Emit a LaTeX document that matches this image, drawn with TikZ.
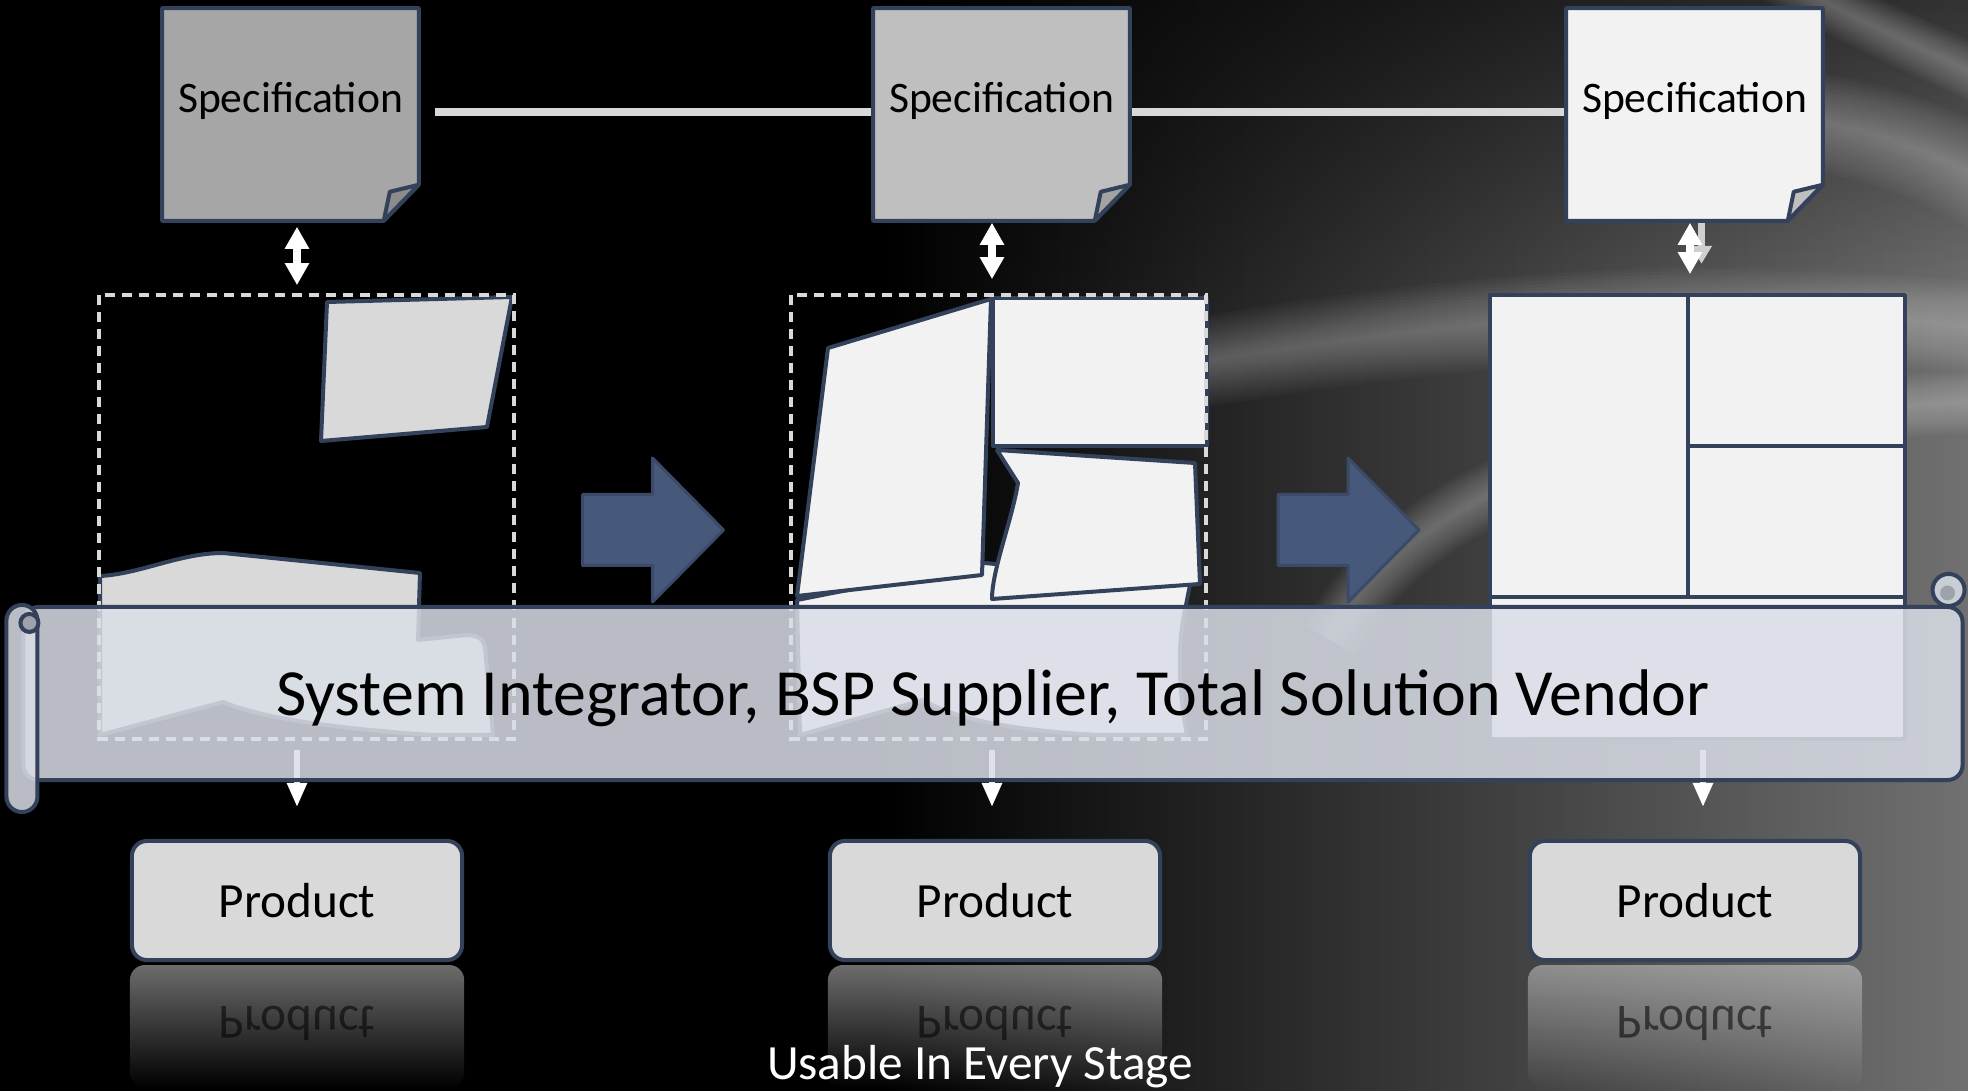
\documentclass[tikz,border=0pt]{standalone}
\usepackage{fontspec}
\setmainfont{Carlito}
\usetikzlibrary{calc,positioning,fadings,arrows.meta}

\definecolor{edgeblue}{HTML}{34415A}
\definecolor{flowblue}{HTML}{47597A}
\definecolor{flowedge}{HTML}{3A4A68}
\definecolor{piecegray}{HTML}{D9D9D9}
\definecolor{piecewhite}{HTML}{F2F2F2}
\definecolor{scrollfill}{RGB}{218,222,231}
\definecolor{curlgray}{HTML}{9EA2AA}
\definecolor{linkgray}{HTML}{D9D9D9}
\definecolor{ghostgray}{HTML}{CFCFCF}

\begin{document}
\begin{tikzpicture}[x=0.01cm, y=-0.01cm,
  specbox/.style={minimum width=2.55cm, minimum height=2.11cm, inner sep=0pt},
  sheet/.style={draw=edgeblue, line width=0.04cm, line join=round},
  spectext/.style={font=\fontsize{12.4}{14}\selectfont, inner sep=0pt},
  stagebox/.style={minimum width=4.13cm, minimum height=4.42cm, inner sep=0pt},
  dashedframe/.style={draw=linkgray, line width=0.035cm, dash pattern=on 0.1cm off 0.07cm},
  piece/.style={draw=edgeblue, line width=0.04cm, line join=round},
  twoway/.style={white, line width=0.08cm, {Triangle[width=0.23cm,length=0.22cm]}-{Triangle[width=0.23cm,length=0.22cm]}},
  ghostway/.style={ghostgray, line width=0.07cm, -{Triangle[width=0.2cm,length=0.18cm]}},
  downway/.style={white, line width=0.055cm, -{Triangle[width=0.19cm,length=0.24cm]}},
  flowarrow/.style={fill=flowblue, draw=flowedge, line width=0.03cm, line join=round},
  scroll/.style={draw=edgeblue, line width=0.04cm, fill=scrollfill, fill opacity=0.85},
  scrollbody/.style={scroll, rounded corners=0.15cm, minimum width=19.38cm, minimum height=1.73cm, text opacity=1, font=\fontsize{18.75}{20}\selectfont},
  productbox/.style={draw=edgeblue, fill=piecegray, line width=0.04cm, rounded corners=0.15cm, minimum width=3.3cm, minimum height=1.19cm, font=\fontsize{14}{16}\selectfont},
  reflection/.style={fill=piecegray, fill opacity=0.5, path fading=south, rounded corners=0.15cm},
  reflecttext/.style={font=\fontsize{14}{16}\selectfont, text opacity=0.55, inner sep=0pt},
  swoosh/.style={white, line cap=butt, line width=#1},
]
\path[use as bounding box] (0,0) rectangle (1968,1091);

% background
\fill[black] (0,0) rectangle (1968,1091);
\shade[left color=black, right color=black!56!white] (880,0) rectangle (1968,1091);
\fill[black, opacity=0.55, path fading=south] (880,0) rectangle (1968,300);
\begin{scope}
\clip (0,0) rectangle (1968,1091);
\foreach \k in {1,...,14}
{
	\draw[swoosh=\k*0.07cm, opacity=0.022] (1700,120) .. controls (1800,110) and (1900,130) .. (2000,190);
	\draw[swoosh=\k*0.065cm, opacity=0.022] (1150,370) .. controls (1400,330) and (1650,290) .. (2000,330);
	\draw[swoosh=\k*0.045cm, opacity=0.025] (1330,640) .. controls (1420,480) and (1620,420) .. (2000,400);
	\draw[swoosh=\k*0.04cm, opacity=0.022] (1750,-40) .. controls (1850,20) and (1930,50) .. (2050,110);
}
\end{scope}

\foreach \i/\sx in {1/290.5, 2/1001.5, 3/1694.5}
{
	\node[specbox] (spec\i) at (\sx,114.5) {};
}
\foreach \i/\sx in {1/306.5, 2/998.5, 3/1697.5}
{
	\node[stagebox] (stage\i) at (\sx,517) {};
}

\draw[linkgray, line width=0.08cm] ($(spec1.east)+(16,-2)$) -- ($(spec3.west)+(0,-2)$);

\foreach \i/\sfill/\ffill in {1/35/45, 2/25/36, 3/5/25}
{
	\filldraw[sheet, fill=black!\sfill!white] (spec\i.north west) -- (spec\i.north east)
		-- ($(spec\i.south east)+(0,-36)$) -- ($(spec\i.south east)+(-35,0)$) -- (spec\i.south west) -- cycle;
	\filldraw[sheet, fill=black!\ffill!white] ($(spec\i.south east)+(0,-36)$)
		-- ($(spec\i.south east)+(-29,-29)$) -- ($(spec\i.south east)+(-35,0)$) -- cycle;
	\node[spectext] (spectext\i) at ($(spec\i.north)+(0,93)$) {Specification};
}

\draw[ghostway] ($(spec3.south)+(7,2)$) -- ($(spec3.south)+(7,43)$);
\foreach \i/\dx/\ya/\yb in {1/6.5/6/-10, 2/-9.5/2/-16, 3/-4.5/2/-21}
{
	\coordinate (up\i) at ($(spec\i.south)+(\dx,\ya)$);
	\coordinate (down\i) at ($(stage\i.north)+(0,\yb)$);
	\draw[twoway] (up\i) -- (up\i |- down\i);
}

% first stage
\filldraw[piece, fill=piecegray] (100,576) .. controls (140,574) and (180,553) .. (223,553) -- (420,573)
	-- (418,640) -- (457,636) .. controls (475,634) and (483,636) .. (485,648) -- (493,735) -- (432,735)
	.. controls (330,728) and (262,718) .. (223,702) -- (100,735) -- cycle;
\filldraw[piece, fill=piecegray] (327,302) -- (512,297) -- (487,427) -- (321,441) -- cycle;
\draw[dashedframe] (stage1.north west) rectangle (stage1.south east);

% second stage
\filldraw[piece, fill=piecewhite] (797,600) -- (985,563) -- (1005,565) -- (1190,585) -- (1183,620)
	.. controls (1177,655) and (1180,700) .. (1187,735) -- (1100,735) .. controls (1000,730) and (950,716) .. (923,700)
	-- (800,735) -- cycle;
\filldraw[piece, fill=piecewhite] (828,348) -- (991,299) -- (982,575) -- (797,596) -- cycle;
\filldraw[piece, fill=piecewhite] (993,298) rectangle (1207,446);
\filldraw[piece, fill=piecewhite] (997,450) -- (1195,463) -- (1200,584) -- (992,599)
	.. controls (992,570) and (1012,520) .. (1018,483) -- cycle;
\draw[dashedframe] (stage2.north west) rectangle (stage2.south east);

% third stage
\filldraw[piece, fill=piecewhite] (stage3.north west) rectangle (stage3.south east);
\draw[piece] ($(stage3.north west)+(198,0)$) -- ($(stage3.north west)+(198,302)$);
\draw[piece] ($(stage3.north west)+(198,151)$) -- ($(stage3.north east)+(0,151)$);
\draw[piece] ($(stage3.north west)+(0,302)$) -- ($(stage3.north east)+(0,302)$);

\foreach \n in {1,2}
{
	\pgfmathsetmacro{\nplusone}{int(\n +1)}
	\coordinate (flow\n) at ($(stage\n.east)!0.5!(stage\nplusone.west)+(0,13)$);
	\filldraw[flowarrow] ($(flow\n)+(-70,-35.5)$) -- ($(flow\n)+(0,-35.5)$) -- ($(flow\n)+(0,-72)$)
		-- ($(flow\n)+(71,0)$) -- ($(flow\n)+(0,72)$) -- ($(flow\n)+(0,35.5)$) -- ($(flow\n)+(-70,35.5)$) -- cycle;
}

\foreach \i/\px/\dx in {1/297/-9.5, 2/995/-6.5, 3/1695/5.5}
{
	\node[productbox] (product\i) at (\px,900.5) {Product};
	\fill[reflection] ($(product\i.south west)+(0,3)$) rectangle ($(product\i.south east)+(0,126)$);
	\node[reflecttext] (mirror\i) at ($(product\i.center)+(0,123)$) {\scalebox{1}[-1]{Product}};

	\coordinate (drop\i) at ($(stage\i.south)+(\dx,11)$);
	\coordinate (land\i) at ($(product\i.north)+(0,-32)$);
	\draw[downway] (drop\i) -- (drop\i |- land\i);
}

% scroll
\node[scrollbody] (scroll) at (993,693.5) {\raisebox{-0.05cm}[\height][\depth]{System Integrator, BSP Supplier, Total Solution Vendor}};
\draw[scroll, rounded corners=0.155cm] ($(scroll.north west)+(-15,0)$) rectangle ($(scroll.south west)+(16,30)$);
\filldraw[draw=edgeblue, line width=0.04cm, fill=curlgray] ($(scroll.north west)+(8,18)$) circle (0.09cm);
\filldraw[scroll] ($(scroll.north east)+(-16,-15)$) circle (0.16cm);
\fill[curlgray] ($(scroll.north east)+(-17,-12)$) circle (0.075cm);

\node[white, font=\fontsize{14}{16}\selectfont] (stages) at (980,1067) {Usable In Every Stage};

\end{tikzpicture}
\end{document}
